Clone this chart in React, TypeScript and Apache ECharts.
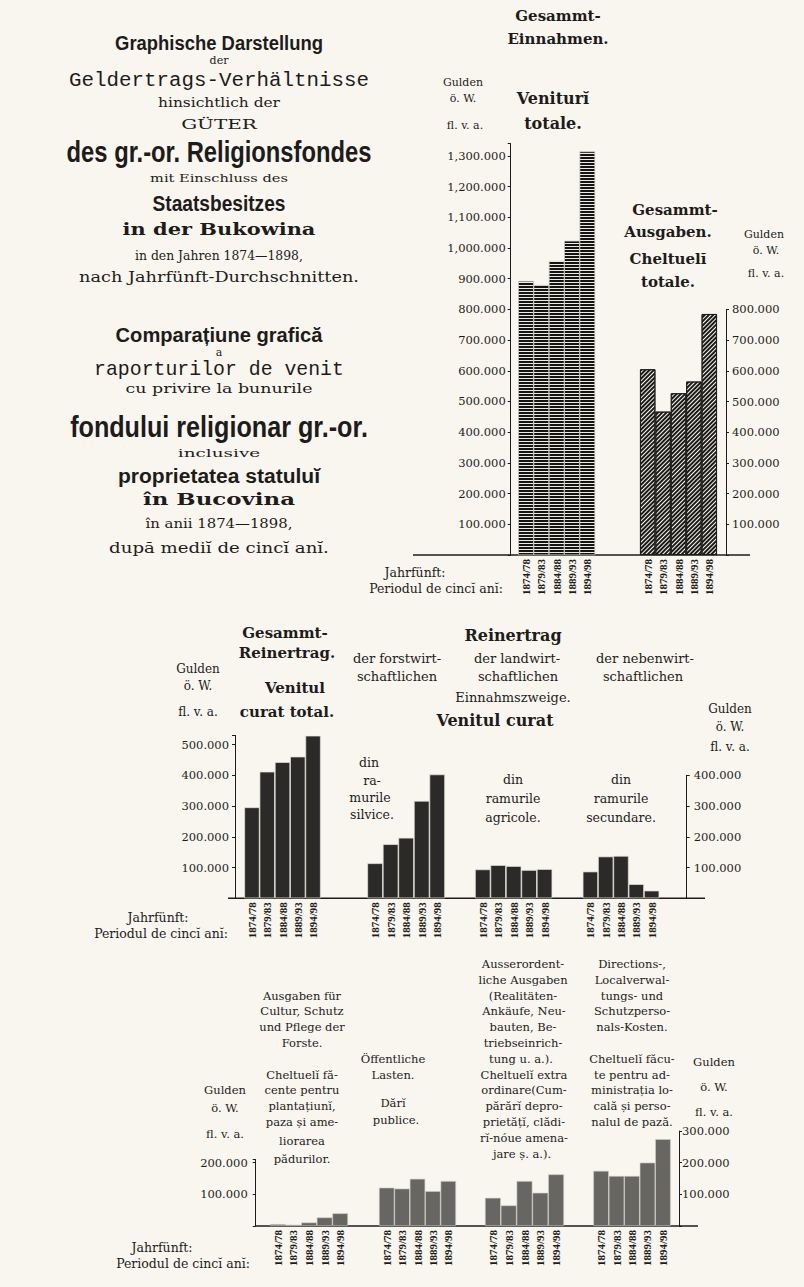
import React, { useEffect, useRef } from "react";
import * as echarts from "echarts";

// ---------- data (Gulden ö. W.) ----------
const periods = ["1874/78", "1879/83", "1884/88", "1889/93", "1894/98"];
const totalIncome = [892000, 879000, 958000, 1023000, 1314000];
const totalExpenses = [605000, 467000, 527000, 565000, 785000];
const netTotal = [296000, 412000, 443000, 461000, 529000];
const netForest = [114000, 176000, 197000, 317000, 403000];
const netAgri = [94000, 108000, 105000, 92000, 95000];
const netSecondary = [87000, 136000, 138000, 46000, 25000];
const expForest = [6000, 4000, 11000, 27000, 40000];
const expPublic = [121000, 118000, 149000, 110000, 142000];
const expExtra = [89000, 65000, 142000, 105000, 163000];
const expAdmin = [174000, 158000, 158000, 200000, 274000];

const incomeTicks = ["100.000", "200.000", "300.000", "400.000", "500.000", "600.000", "700.000", "800.000", "900.000", "1,000.000", "1,100.000", "1,200.000", "1,300.000"];
const expenseTicks = ["100.000", "200.000", "300.000", "400.000", "500.000", "600.000", "700.000", "800.000"];
const netTicks = ["100.000", "200.000", "300.000", "400.000", "500.000"];
const costTicks = ["100.000", "200.000", "300.000"];

// ---------- look ----------
const PAPER = "#f8f6ef";
const INK = "#1d1c1a";
const SERIF = "'DejaVu Serif', 'Liberation Serif', serif";
const NUMF = "'Liberation Serif', 'DejaVu Serif', serif";
const SANS = "'Liberation Sans', Arimo, 'DejaVu Sans', sans-serif";
const MONO = "'Liberation Mono', 'DejaVu Sans Mono', monospace";

interface Note { t: string; x: number; y: number; s: number; f?: string; b?: boolean; w?: number; a?: string; }

const X0 = 219;
const titleNotes: Note[] = [
  { t: "Graphische Darstellung", x: X0, y: 43, s: 21, f: SANS, b: true, w: 208 },
  { t: "der", x: X0, y: 60.5, s: 11 },
  { t: "Geldertrags-Verhältnisse", x: X0, y: 80, s: 21, f: MONO, w: 300 },
  { t: "hinsichtlich der", x: X0, y: 103, s: 12, w: 122 },
  { t: "GÜTER", x: X0, y: 125, s: 12.5, w: 76 },
  { t: "des gr.-or. Religionsfondes", x: X0, y: 152, s: 29, f: SANS, b: true, w: 305 },
  { t: "mit Einschluss des", x: X0, y: 178, s: 11.5, w: 138 },
  { t: "Staatsbesitzes", x: X0, y: 203, s: 22, f: SANS, b: true, w: 133 },
  { t: "in der Bukowina", x: X0, y: 229, s: 16, b: true, w: 193 },
  { t: "in den Jahren 1874—1898,", x: X0, y: 256, s: 12, w: 168 },
  { t: "nach Jahrfünft-Durchschnitten.", x: X0, y: 277, s: 14.5, w: 280 },
  { t: "Comparațiune grafică", x: X0, y: 334, s: 21, f: SANS, b: true, w: 207 },
  { t: "a", x: X0, y: 352, s: 11 },
  { t: "raporturilor de venit", x: X0, y: 369, s: 20, f: MONO, w: 250 },
  { t: "cu privire la bunurile", x: X0, y: 389, s: 12, w: 187 },
  { t: "fondului religionar gr.-or.", x: X0, y: 427, s: 29, f: SANS, b: true, w: 298 },
  { t: "inclusive", x: X0, y: 453, s: 11.5, w: 102 },
  { t: "proprietatea statuluĭ", x: X0, y: 476, s: 21, f: SANS, b: true, w: 202 },
  { t: "în Bucovina", x: X0, y: 499, s: 16, b: true, w: 152 },
  { t: "în anii 1874—1898,", x: X0, y: 524, s: 12, w: 147 },
  { t: "după mediĭ de cincĭ anĭ.", x: X0, y: 548, s: 14, w: 220 },
];

const topNotes: Note[] = [
  { t: "Gesammt-", x: 558, y: 16, s: 15, b: true },
  { t: "Einnahmen.", x: 558, y: 39, s: 15, b: true },
  { t: "Gulden", x: 463, y: 82, s: 11 },
  { t: "ö. W.", x: 463, y: 98, s: 11 },
  { t: "Veniturĭ", x: 553, y: 98, s: 16, b: true },
  { t: "totale.", x: 553, y: 123, s: 16, b: true },
  { t: "fl. v. a.", x: 465, y: 125, s: 11 },
  { t: "Gesammt-", x: 675, y: 210, s: 15, b: true },
  { t: "Ausgaben.", x: 668, y: 232, s: 15, b: true },
  { t: "Cheltuelĭ", x: 668, y: 259, s: 15, b: true },
  { t: "totale.", x: 668, y: 282, s: 15, b: true },
  { t: "Gulden", x: 764, y: 234, s: 11 },
  { t: "ö. W.", x: 766, y: 250, s: 11 },
  { t: "fl. v. a.", x: 766, y: 273, s: 11 },
  { t: "Jahrfünft:", x: 415, y: 572, s: 12.5 },
  { t: "Periodul de cincĭ anĭ:", x: 503, y: 588, s: 12.5, a: "right" },
];

const midNotes: Note[] = [
  { t: "Gesammt-", x: 285, y: 633, s: 15, b: true },
  { t: "Reinertrag.", x: 287, y: 653, s: 15, b: true },
  { t: "Venitul", x: 295, y: 688, s: 15, b: true },
  { t: "curat total.", x: 287, y: 712, s: 15, b: true },
  { t: "Gulden", x: 198, y: 669, s: 12 },
  { t: "ö. W.", x: 198, y: 686, s: 12 },
  { t: "fl. v. a.", x: 198, y: 712, s: 12 },
  { t: "der forstwirt-", x: 397, y: 658, s: 13 },
  { t: "schaftlichen", x: 397, y: 676, s: 13 },
  { t: "Reinertrag", x: 513, y: 635, s: 16, b: true },
  { t: "der landwirt-", x: 517, y: 658, s: 13 },
  { t: "schaftlichen", x: 518, y: 676, s: 13 },
  { t: "Einnahmszweige.", x: 513, y: 697, s: 13 },
  { t: "Venitul curat", x: 495, y: 720, s: 16, b: true },
  { t: "der nebenwirt-", x: 645, y: 658, s: 13 },
  { t: "schaftlichen", x: 643, y: 676, s: 13 },
  { t: "Gulden", x: 730, y: 709, s: 12 },
  { t: "ö. W.", x: 730, y: 727, s: 12 },
  { t: "fl. v. a.", x: 730, y: 747, s: 12 },
  { t: "din", x: 369, y: 762, s: 12.5 },
  { t: "ra-", x: 372, y: 780, s: 12.5 },
  { t: "murile", x: 370, y: 797, s: 12.5 },
  { t: "silvice.", x: 372, y: 814, s: 12.5 },
  { t: "din", x: 513, y: 779, s: 12.5 },
  { t: "ramurile", x: 513, y: 798, s: 12.5 },
  { t: "agricole.", x: 513, y: 817, s: 12.5 },
  { t: "din", x: 621, y: 779, s: 12.5 },
  { t: "ramurile", x: 621, y: 798, s: 12.5 },
  { t: "secundare.", x: 621, y: 817, s: 12.5 },
  { t: "Jahrfünft:", x: 158, y: 917, s: 12.5 },
  { t: "Periodul de cincĭ anĭ:", x: 228, y: 933, s: 12.5, a: "right" },
];

const R = (i: number) => 964 + 15.8 * i;
const botNotes: Note[] = [
  { t: "Ausgaben für", x: 302, y: R(2), s: 11.5 },
  { t: "Cultur, Schutz", x: 302, y: R(3), s: 11.5 },
  { t: "und Pflege der", x: 302, y: R(4), s: 11.5 },
  { t: "Forste.", x: 302, y: R(5), s: 11.5 },
  { t: "Cheltuelĭ fă-", x: 302, y: R(7), s: 11.5 },
  { t: "cente pentru", x: 302, y: R(8), s: 11.5 },
  { t: "plantațiunĭ,", x: 302, y: R(9), s: 11.5 },
  { t: "paza și ame-", x: 302, y: R(10), s: 11.5 },
  { t: "liorarea", x: 302, y: R(11) + 3, s: 11.5 },
  { t: "pădurilor.", x: 302, y: R(12) + 5, s: 11.5 },
  { t: "Gulden", x: 225, y: 1090, s: 11.5 },
  { t: "ö. W.", x: 225, y: 1108, s: 11.5 },
  { t: "fl. v. a.", x: 225, y: 1134, s: 11.5 },
  { t: "Öffentliche", x: 393, y: R(6), s: 11.5 },
  { t: "Lasten.", x: 393, y: R(7), s: 11.5 },
  { t: "Dărĭ", x: 393, y: 1103, s: 11.5 },
  { t: "publice.", x: 396, y: 1120, s: 11.5 },
  { t: "Ausserordent-", x: 523, y: R(0), s: 11.5 },
  { t: "liche Ausgaben", x: 523, y: R(1), s: 11.5 },
  { t: "(Realitäten-", x: 523, y: R(2), s: 11.5 },
  { t: "Ankäufe, Neu-", x: 524, y: R(3), s: 11.5 },
  { t: "bauten, Be-", x: 523, y: R(4), s: 11.5 },
  { t: "triebseinrich-", x: 523, y: R(5), s: 11.5 },
  { t: "tung u. a.).", x: 521, y: R(6), s: 11.5 },
  { t: "Cheltuelĭ extra", x: 524, y: R(7), s: 11.5 },
  { t: "ordinare(Cum-", x: 524, y: R(8), s: 11.5 },
  { t: "părărĭ depro-", x: 524, y: R(9), s: 11.5 },
  { t: "prietățĭ, clădi-", x: 524, y: R(10), s: 11.5 },
  { t: "rĭ-nóue amena-", x: 524, y: R(11), s: 11.5 },
  { t: "jare ș. a.).", x: 522, y: R(12), s: 11.5 },
  { t: "Directions-,", x: 632, y: R(0), s: 11.5 },
  { t: "Localverwal-", x: 632, y: R(1), s: 11.5 },
  { t: "tungs- und", x: 632, y: R(2), s: 11.5 },
  { t: "Schutzperso-", x: 632, y: R(3), s: 11.5 },
  { t: "nals-Kosten.", x: 632, y: R(4), s: 11.5 },
  { t: "Cheltuelĭ făcu-", x: 632, y: R(6), s: 11.5 },
  { t: "te pentru ad-", x: 632, y: R(7), s: 11.5 },
  { t: "ministrația lo-", x: 632, y: R(8), s: 11.5 },
  { t: "cală și perso-", x: 632, y: R(9), s: 11.5 },
  { t: "nalul de pază.", x: 632, y: R(10), s: 11.5 },
  { t: "Gulden", x: 714, y: 1062, s: 11.5 },
  { t: "ö. W.", x: 714, y: 1087, s: 11.5 },
  { t: "fl. v. a.", x: 714, y: 1112, s: 11.5 },
  { t: "Jahrfünft:", x: 162, y: 1247, s: 12.5 },
  { t: "Periodul de cincĭ anĭ:", x: 250, y: 1263, s: 12.5, a: "right" },
];

type Look = "stripes" | "hatch" | "dark" | "gray";
interface Panel {
  values: number[]; left: number; width: number; top: number; height: number; max: number;
  ticks?: string[]; axis?: "left" | "right"; offset?: number; margin?: number; look: Look;
}

const panels: Panel[] = [
  { values: totalIncome, left: 518.3, width: 76.7, top: 143.6, height: 411.4, max: 1340000, ticks: incomeTicks, axis: "left", offset: 7.6, margin: 5, look: "stripes" },
  { values: totalExpenses, left: 640, width: 77, top: 309.4, height: 245.6, max: 800000, ticks: expenseTicks, axis: "right", offset: 9, margin: 6, look: "hatch" },
  { values: netTotal, left: 244.3, width: 76.4, top: 735.4, height: 162.9, max: 530000, ticks: netTicks, axis: "left", offset: 9.3, margin: 6, look: "dark" },
  { values: netForest, left: 367.3, width: 77.7, top: 735.4, height: 162.9, max: 530000, look: "dark" },
  { values: netAgri, left: 475, width: 77.3, top: 735.4, height: 162.9, max: 530000, look: "dark" },
  { values: netSecondary, left: 582.7, width: 76.6, top: 775.4, height: 122.9, max: 400000, ticks: netTicks, axis: "right", offset: 27.4, margin: 7, look: "dark" },
  { values: expForest, left: 270, width: 78, top: 1159.5, height: 66.5, max: 210000, ticks: costTicks, axis: "left", offset: 14.3, margin: 8, look: "gray" },
  { values: expPublic, left: 379, width: 77, top: 1159.5, height: 66.5, max: 210000, look: "gray" },
  { values: expExtra, left: 485, width: 79, top: 1159.5, height: 66.5, max: 210000, look: "gray" },
  { values: expAdmin, left: 593.3, width: 77.4, top: 1131, height: 95, max: 300000, ticks: costTicks, axis: "right", offset: 8.3, margin: 3, look: "gray" },
];

function lookStyle(look: Look): any {
  if (look === "stripes") {
    return {
      color: "#141413", borderColor: "#d8d6ce", borderWidth: 0.4,
      decal: { symbol: "rect", symbolSize: 1, dashArrayX: [1, 0], dashArrayY: [1, 2], rotation: 0, color: "#eeece4" },
    };
  }
  if (look === "hatch") {
    return {
      color: PAPER, borderColor: INK, borderWidth: 0.9,
      decal: { symbol: "rect", symbolSize: 1, dashArrayX: [1, 0], dashArrayY: [2, 1], rotation: -Math.PI / 4, color: "#1a1a19" },
    };
  }
  if (look === "dark") return { color: "#2b2a28", borderColor: "#e4e2da", borderWidth: 0.7 };
  return { color: "#676663", borderColor: "#cfcdc5", borderWidth: 0.6 };
}

export default function App() {
  const ref = useRef<HTMLDivElement>(null);

  useEffect(() => {
    document.body.style.margin = "0";
    document.body.style.background = PAPER;
    if (!ref.current) return;
    const chart = echarts.init(ref.current, undefined, { renderer: "svg" });

    const ctx = document.createElement("canvas").getContext("2d");
    const note = (n: Note) => {
      const family = n.f || SERIF;
      const weight = n.b ? "bold" : "normal";
      let scaleX = 1;
      if (n.w && ctx) {
        ctx.font = `${weight} ${n.s}px ${family}`;
        const m = ctx.measureText(n.t).width;
        if (m > 0) scaleX = Math.max(0.55, Math.min(1.6, n.w / m));
      }
      const align = n.a || "center";
      return {
        type: "text", x: n.x, y: n.y, scaleX, silent: true,
        style: {
          text: n.t, fill: INK, fontSize: n.s, fontFamily: family, fontWeight: weight,
          align, verticalAlign: "middle", textAlign: align, textVerticalAlign: "middle",
        },
      };
    };

    const baseline = (x1: number, x2: number, y: number, w: number) => ({
      type: "line", silent: true, shape: { x1, y1: y, x2, y2: y }, style: { stroke: INK, lineWidth: w },
    });

    const fmt = (ticks?: string[]) => (v: number) => {
      const k = Math.round(v / 100000);
      if (!ticks || v <= 0 || Math.abs(v - k * 100000) > 1) return "";
      return ticks[k - 1] || "";
    };

    const option: any = {
      animation: false,
      backgroundColor: PAPER,
      grid: panels.map((p) => ({ left: p.left, top: p.top, width: p.width, height: p.height, containLabel: false })),
      xAxis: panels.map((p, i) => ({
        type: "category", gridIndex: i, data: periods,
        axisLine: { show: false }, axisTick: { show: false }, splitLine: { show: false },
        axisLabel: { interval: 0, rotate: 90, margin: 4, fontSize: 11, fontWeight: "bold", fontFamily: NUMF, color: INK },
      })),
      yAxis: panels.map((p, i) => ({
        type: "value", gridIndex: i, min: 0, max: p.max, interval: 100000,
        show: !!p.axis, position: p.axis || "left", offset: p.offset || 0,
        splitLine: { show: false },
        axisLine: { show: true, lineStyle: { color: INK, width: 1 } },
        axisTick: { show: true, length: 3, lineStyle: { color: INK, width: 1 } },
        axisLabel: { show: true, margin: p.margin || 5, fontSize: 11.5, fontFamily: SERIF, color: INK, formatter: fmt(p.ticks) },
      })),
      series: panels.map((p, i) => ({
        type: "bar", xAxisIndex: i, yAxisIndex: i, data: p.values,
        barWidth: "100%", barGap: "0%", silent: true,
        itemStyle: lookStyle(p.look),
      })),
      graphic: {
        elements: [
          baseline(413, 750, 555, 1.6),
          baseline(228, 705, 898.3, 1.4),
          baseline(255, 698, 1226, 1.6),
          ...titleNotes.map(note),
          ...topNotes.map(note),
          ...midNotes.map(note),
          ...botNotes.map(note),
        ],
      },
    };

    chart.setOption(option);
    return () => chart.dispose();
  }, []);

  return <div ref={ref} style={{ width: 804, height: 1287 }} />;
}
